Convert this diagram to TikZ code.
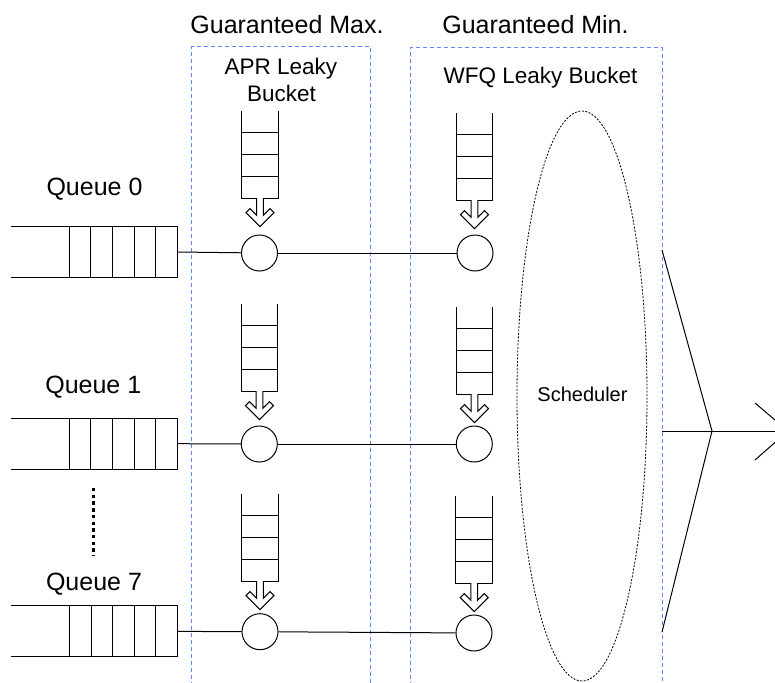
\documentclass[tikz,border=0pt]{standalone}
\usepackage{fontspec}
\setmainfont{Liberation Sans}
\usetikzlibrary{shapes.geometric}
\definecolor{grpblue}{RGB}{90,140,255}
\tikzset{
  ln/.style={line width=1pt, draw=black},
  grp/.style={draw=grpblue, line width=1pt, dash pattern=on 4pt off 3pt},
  gate/.style={circle, draw, line width=1pt, minimum size=36pt, inner sep=0pt, fill=white},
  qbox/.style={rectangle, minimum width=166pt, minimum height=50.5pt, inner sep=0pt},
  bigtxt/.style={font=\fontsize{25}{30}\selectfont, anchor=base, inner sep=0pt},
  midtxt/.style={font=\fontsize{22.5}{27}\selectfont, anchor=base, inner sep=0pt},
  smalltxt/.style={font=\fontsize{20}{24}\selectfont, anchor=base, inner sep=0pt},
  bucket/.pic={
    \draw[ln] (-18.3,-87) -- (-18.3,0) -- (18.3,0) -- (18.3,-87);
    \foreach \k in {1,2,3} \draw[ln] (-18.3,-21.75*\k) -- (18.3,-21.75*\k);
    \draw[ln, fill=white, line join=miter] (-3.3,0) -- (-3.3,17.3) -- (-10,10.6) -- (-14,14.6)
      -- (0,28.6) -- (14,14.6) -- (10,10.6) -- (3.3,17.3) -- (3.3,0);
  }
}
\begin{document}
\begin{tikzpicture}[x=1pt,y=-1pt]
\useasboundingbox (0,0) rectangle (775,682);
\clip (0,0) rectangle (775,682);

% group boxes
\draw[grp] (191.5,700) -- (191.5,47) -- (370,47) -- (370,700);
\draw[grp] (410,700) -- (410,48) -- (662,48) -- (662,700);

% headings
\node[bigtxt] (hmax) at (287,33.3) {Guaranteed Max.};
\node[bigtxt] (hmin) at (535.5,33.3) {Guaranteed Min.};
\node[midtxt] (apr1t) at (281,75) {APR Leaky};
\node[midtxt] (apr2t) at (281.5,102) {Bucket};
\node[midtxt] (wfqt) at (540.5,84) {WFQ Leaky Bucket};

% scheduler
\node[ellipse, draw=black, line width=0.8pt, dash pattern=on 2pt off 1.5pt,
      minimum width=130pt, minimum height=570pt, inner sep=0pt] (sched) at (582,396) {};
\node[smalltxt] (schedt) at (582.5,401.7) {Scheduler};

% queue labels
\node[bigtxt] (ql0) at (94.5,195) {Queue 0};
\node[bigtxt] (ql1) at (93.3,393) {Queue 1};
\node[bigtxt] (ql7) at (94,590) {Queue 7};

% queues
\node[qbox] (q0) at (94,252) {};
\node[qbox] (q1) at (94,443.7) {};
\node[qbox] (q7) at (94.2,631.4) {};
\foreach \q in {q0,q1,q7}{
  \draw[ln] (\q.north west) -- (\q.north east) -- (\q.south east) -- (\q.south west);
  \foreach \i in {1,...,5}
    \draw[ln] ([xshift=-21.6*\i pt]\q.north east) -- ([xshift=-21.6*\i pt]\q.south east);
}

% buckets
\pic at (260,198) {bucket};
\pic at (474.5,200) {bucket};
\pic at (259.5,391) {bucket};
\pic at (474.5,394) {bucket};
\pic at (260,581) {bucket};
\pic at (474.2,583) {bucket};

% gates
\node[gate] (apr0) at (259.5,253) {};
\node[gate] (wfq0) at (475,253) {};
\node[gate] (apr1) at (259.3,444) {};
\node[gate] (wfq1) at (474.3,444) {};
\node[gate] (apr7) at (260,631.7) {};
\node[gate] (wfq7) at (474,633) {};

% connectors
\draw[ln] (q0.east) -- (apr0);
\draw[ln] (apr0) -- (wfq0);
\draw[ln] (q1.east) -- (apr1);
\draw[ln] (apr1) -- (wfq1);
\draw[ln] (q7.east) -- (apr7);
\draw[ln] (apr7) -- (wfq7);

% dots between queues
\coordinate (d1) at (93.3,488);
\coordinate (d2) at (93.3,556);
\draw[line width=2.5pt, dash pattern=on 3.4pt off 3.3pt] (d1) -- (d2);

% output wedge and arrow
\coordinate (wt) at (662,250);
\coordinate (apex) at (712,431);
\coordinate (wb) at (662,632);
\coordinate (ob) at (662,431);
\coordinate (tip) at (788,431);
\coordinate (h1) at (755,403);
\coordinate (h2) at (755,460);
\draw[ln] (wt) -- (apex) -- (wb);
\draw[ln] (ob) -- (tip);
\draw[ln] (h1) -- (tip) -- (h2);
\end{tikzpicture}
\end{document}
